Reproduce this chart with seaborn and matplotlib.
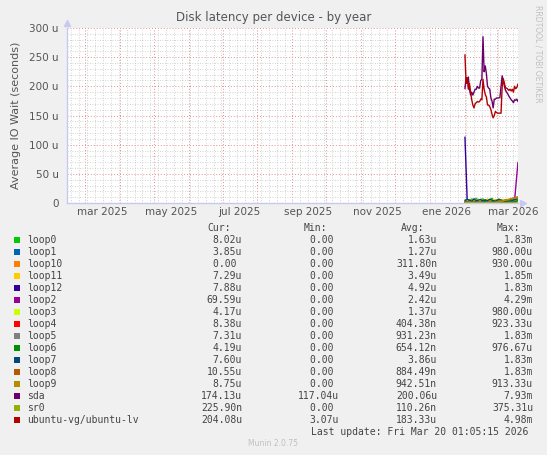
import numpy as np
import pandas as pd
import matplotlib
matplotlib.use("Agg")
import matplotlib.pyplot as plt
import matplotlib.dates as mdates
from matplotlib.patches import Rectangle
import seaborn as sns

# devices, munin colours and legend numbers
devices = ["loop0", "loop1", "loop10", "loop11", "loop12", "loop2", "loop3", "loop4",
           "loop5", "loop6", "loop7", "loop8", "loop9", "sda", "sr0", "ubuntu-vg/ubuntu-lv"]
colors = ["#00CC00", "#0066B3", "#FF8000", "#FFCC00", "#330099", "#990099", "#CCFF00", "#FF0000",
          "#808080", "#008F00", "#00487D", "#B35A00", "#B38F00", "#6B006B", "#8FB300", "#B30000"]
cur = ["8.02u", "3.85u", "0.00 ", "7.29u", "7.88u", "69.59u", "4.17u", "8.38u",
       "7.31u", "4.19u", "7.60u", "10.55u", "8.75u", "174.13u", "225.90n", "204.08u"]
mins = ["0.00 "] * 13 + ["117.04u", "0.00 ", "3.07u"]
avgs = ["1.63u", "1.27u", "311.80n", "3.49u", "4.92u", "2.42u", "1.37u", "404.38n",
        "931.23n", "654.12n", "3.86u", "884.49n", "942.51n", "200.06u", "110.26n", "183.33u"]
maxs = ["1.83m", "980.00u", "930.00u", "1.85m", "1.83m", "4.29m", "980.00u", "923.33u",
        "1.83m", "976.67u", "1.83m", "1.83m", "913.33u", "7.93m", "375.31u", "4.98m"]

# daily values (in microseconds) for the two big series, from 2026-02-01
big_dates = pd.date_range("2026-02-01", periods=48, freq="D")
sda = [196, 215, 205, 216, 195, 185, 190, 185, 190, 195, 195, 200, 197, 197, 210, 212,
       285, 225, 235, 222, 200, 197, 195, 180, 175, 163, 178, 178, 180, 180, 180, 181,
       200, 218, 210, 200, 193, 190, 187, 183, 180, 177, 175, 172, 177, 176, 178, 174]
ubuntu_lv = [254, 205, 215, 195, 205, 190, 177, 168, 163, 170, 172, 174, 173, 174, 178, 177,
             212, 195, 186, 182, 168, 168, 165, 160, 152, 146, 150, 157, 155, 154, 154, 154,
             154, 200, 213, 205, 197, 197, 195, 193, 195, 192, 195, 190, 200, 196, 198, 204]

# small series every two days (microseconds)
small_dates = pd.date_range("2026-02-01", periods=24, freq="2D")
small = {
    "loop0": [5, 6, 3, 7, 5, 8, 4, 6, 7, 3, 5, 6, 8, 4, 5, 7, 3, 6, 5, 4, 6, 7, 5, 8.02],
    "loop1": [2, 4, 3, 5, 2, 3, 4, 2, 5, 3, 2, 4, 3, 2, 4, 3, 5, 2, 3, 4, 2, 3, 4, 3.85],
    "loop10": [0, 1, 0, 0, 2, 0, 0, 1, 0, 0, 0, 1, 0, 0, 2, 0, 0, 0, 1, 0, 0, 3, 1, 0],
    "loop11": [3, 5, 6, 4, 7, 5, 3, 6, 4, 5, 7, 3, 5, 6, 4, 7, 5, 6, 4, 5, 6, 7, 8, 7.29],
    "loop12": [113, 3, 4, 5, 3, 4, 6, 3, 4, 5, 3, 6, 4, 3, 5, 4, 3, 4, 5, 3, 4, 6, 5, 7.88],
    "loop2": [2, 3, 2, 4, 3, 2, 3, 2, 4, 2, 3, 2, 3, 4, 2, 3, 2, 3, 4, 2, 3, 2, 4, 69.59],
    "loop3": [3, 4, 2, 5, 3, 4, 6, 3, 2, 4, 5, 3, 4, 2, 5, 3, 4, 6, 3, 4, 2, 5, 4, 4.17],
    "loop4": [1, 0, 2, 1, 0, 1, 0, 2, 1, 0, 1, 2, 0, 1, 0, 1, 2, 0, 1, 0, 2, 1, 3, 8.38],
    "loop5": [1, 2, 1, 0, 2, 1, 1, 2, 0, 1, 2, 1, 0, 1, 2, 1, 0, 1, 2, 1, 0, 2, 3, 7.31],
    "loop6": [2, 1, 3, 2, 1, 2, 0, 1, 2, 3, 1, 0, 2, 1, 2, 1, 0, 2, 1, 3, 2, 1, 2, 4.19],
    "loop7": [4, 6, 5, 3, 7, 4, 5, 6, 3, 5, 4, 6, 5, 3, 4, 6, 5, 4, 3, 5, 6, 4, 6, 7.60],
    "loop8": [1, 2, 0, 1, 2, 1, 0, 1, 2, 0, 1, 2, 1, 0, 1, 2, 1, 3, 4, 5, 6, 8, 9, 10.55],
    "loop9": [1, 0, 2, 1, 1, 0, 2, 1, 0, 1, 1, 2, 0, 1, 2, 1, 3, 4, 5, 6, 7, 8, 8, 8.75],
    "sr0": [0] * 23 + [0.23],
}
small_end = pd.Timestamp("2026-03-20")

x_start = pd.Timestamp("2025-02-13 01:05")
x_end = pd.Timestamp("2026-03-20 01:05")
label_dates = pd.to_datetime(["2025-03-16", "2025-05-16", "2025-07-16", "2025-09-15",
                              "2025-11-15", "2026-01-16", "2026-03-16"])
label_text = ["mar 2025", "may 2025", "jul 2025", "sep 2025", "nov 2025", "ene 2026", "mar 2026"]

small_x = list(small_dates[:-1]) + [small_end]
frames = [pd.DataFrame({"date": small_x, "value": v, "device": k}) for k, v in small.items()]
frames.append(pd.DataFrame({"date": big_dates, "value": sda, "device": "sda"}))
frames.append(pd.DataFrame({"date": big_dates, "value": ubuntu_lv, "device": "ubuntu-vg/ubuntu-lv"}))
df = pd.concat(frames, ignore_index=True)

sns.set_style("white")
W, H = 547, 455
fig = plt.figure(figsize=(W / 100, H / 100), dpi=100, facecolor="#f0f0f0")
ax = fig.add_axes([67 / W, 252 / H, 451 / W, 175 / H])
ax.set_facecolor("white")

sns.lineplot(data=df, x="date", y="value", hue="device", hue_order=devices,
             palette=dict(zip(devices, colors)), estimator=None, sort=False,
             legend=False, lw=1, ax=ax)

ax.set_xlim(x_start, x_end)
ax.set_ylim(0, 300)
ax.set_xlabel("")
ax.set_ylabel("Average IO Wait (seconds)", fontsize=8, color="#555555", labelpad=6)

yt = list(range(0, 301, 50))
ax.set_yticks(yt)
ax.set_yticklabels(["0" if v == 0 else f"{v} u" for v in yt])
ax.set_yticks(range(0, 301, 10), minor=True)

ax.xaxis.set_major_locator(mdates.MonthLocator())
ax.xaxis.set_minor_locator(mdates.WeekdayLocator(byweekday=mdates.MO))
ax.xaxis.set_major_formatter(plt.NullFormatter())
ax.tick_params(axis="x", which="major", length=3, color="#c8c8f0")
ax.tick_params(axis="x", which="minor", length=2, color="#c8c8f0")
ax.tick_params(axis="y", which="major", length=3, color="#c8c8f0", labelsize=7.5,
               labelcolor="#555555", pad=3)
ax.tick_params(axis="y", which="minor", length=2, color="#c8c8f0")

ax.grid(which="minor", color="#c4c4c4", linestyle=(0, (1, 2)), lw=0.6)
ax.grid(which="major", color="#e59090", linestyle=(0, (1, 2)), lw=0.7)
ax.set_axisbelow(True)

for t, lab in zip(label_dates, label_text):
    ax.text(t, -0.052, lab, transform=ax.get_xaxis_transform(), ha="center", va="center",
            fontsize=7.5, color="#555555")

for s in ["top", "right"]:
    ax.spines[s].set_visible(False)
for s in ["left", "bottom"]:
    ax.spines[s].set_color("#c8c8f0")
    ax.spines[s].set_linewidth(1)
ax.plot([0], [1.03], marker="^", ms=4, color="#c8c8f0", transform=ax.transAxes, clip_on=False)
ax.plot([1.01], [0], marker=">", ms=4, color="#c8c8f0", transform=ax.transAxes, clip_on=False)

fig.text(0.5, 1 - 18 / H, "Disk latency per device - by year", ha="center", va="center",
         fontsize=8.5, color="#555555")
fig.text(538 / W, 1 - 5 / H, "RRDTOOL / TOBI OETIKER", rotation=270, ha="center", va="top",
         fontsize=5.5, color="#c0c0c0")

mono = "DejaVu Sans Mono"
tc = "#444444"
hy = 1 - 228 / H
for xr, h in zip([231, 327, 424, 520], ["Cur:", "Min:", "Avg:", "Max:"]):
    fig.text(xr / W, hy, h, ha="right", va="center", fontsize=7, family=mono, color=tc)
for i, dev in enumerate(devices):
    yy = 240 + 12 * i
    yf = 1 - yy / H
    fig.add_artist(Rectangle((14 / W, 1 - (yy + 3) / H), 6 / W, 6 / H,
                             transform=fig.transFigure, facecolor=colors[i], edgecolor="none"))
    fig.text(27 / W, yf, dev, ha="left", va="center", fontsize=7, family=mono, color=tc)
    for xr, col in zip([242, 339, 437, 533], [cur, mins, avgs, maxs]):
        fig.text(xr / W, yf, col[i], ha="right", va="center", fontsize=7, family=mono, color=tc)

fig.text(528 / W, 1 - 432 / H, "Last update: Fri Mar 20 01:05:15 2026", ha="right", va="center",
         fontsize=7, family=mono, color=tc)
fig.text(273 / W, 1 - 444 / H, "Munin 2.0.75", ha="center", va="center", fontsize=5.5,
         color="#c0c0c0")

fig.savefig("out.png", dpi=100, facecolor=fig.get_facecolor())
